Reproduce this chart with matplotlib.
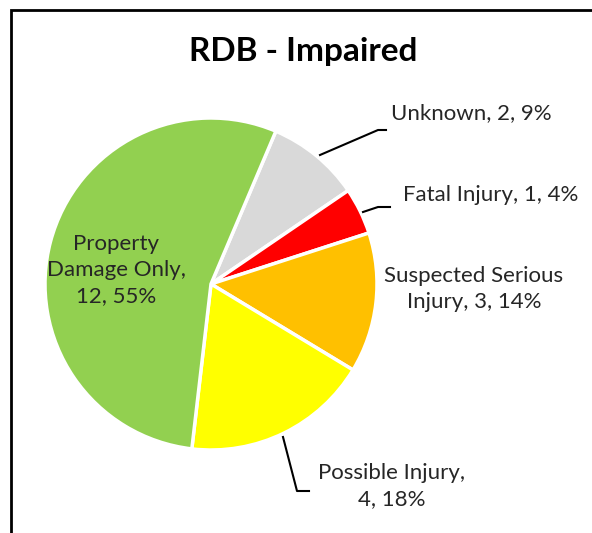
import matplotlib.pyplot as plt
from matplotlib.patches import Rectangle

plt.rcParams['font.family'] = ['Lato', 'DejaVu Sans']

categories = ['Unknown', 'Fatal Injury', 'Suspected Serious Injury', 'Possible Injury', 'Property Damage Only']
counts = [2, 1, 3, 4, 12]
colors = ['#D9D9D9', '#FF0000', '#FFC000', '#FFFF00', '#92D050']
label_texts = ['Unknown, 2, 9%', 'Fatal Injury, 1, 4%', 'Suspected Serious\nInjury, 3, 14%',
               'Possible Injury,\n4, 18%', 'Property\nDamage Only,\n12, 55%']

W, H = 592, 533
fig = plt.figure(figsize=(W / 100, H / 100), dpi=100)
ax = fig.add_axes([0, 0, 1, 1])

def py(y):
    # pixel row (from top) -> data y
    return H - y

# chart frame (only left and top edges are inside the picture)
ax.add_patch(Rectangle((11, py(10) - 600), 700, 600, fill=False, edgecolor='black', lw=2))

ax.pie(counts, colors=colors, startangle=67, counterclock=False,
       center=(211, py(284)), radius=166,
       wedgeprops=dict(edgecolor='white', linewidth=2.5), frame=True)
ax.set_xlim(0, W)
ax.set_ylim(0, H)
ax.set_aspect('equal')
ax.axis('off')

ax.text(303, py(52), 'RDB - Impaired', ha='center', va='center', fontsize=24, fontweight='bold')

# label positions (pixel coords from top)
pos = [(471, 113), (491, 195), (474, 289), (392, 486), (116, 270)]
for txt, (x, y) in zip(label_texts, pos):
    ax.text(x, py(y), txt, ha='center', va='center', fontsize=16, color='#262626', linespacing=1.4)

# leader lines
leaders = [[(320, 155), (378, 130), (386, 130)],
           [(363, 212), (378, 207), (390, 207)],
           [(283, 437), (297, 491), (309, 491)]]
for pts in leaders:
    ax.plot([p[0] for p in pts], [py(p[1]) for p in pts], color='black', lw=1.5)

fig.savefig('out.png', dpi=100)
